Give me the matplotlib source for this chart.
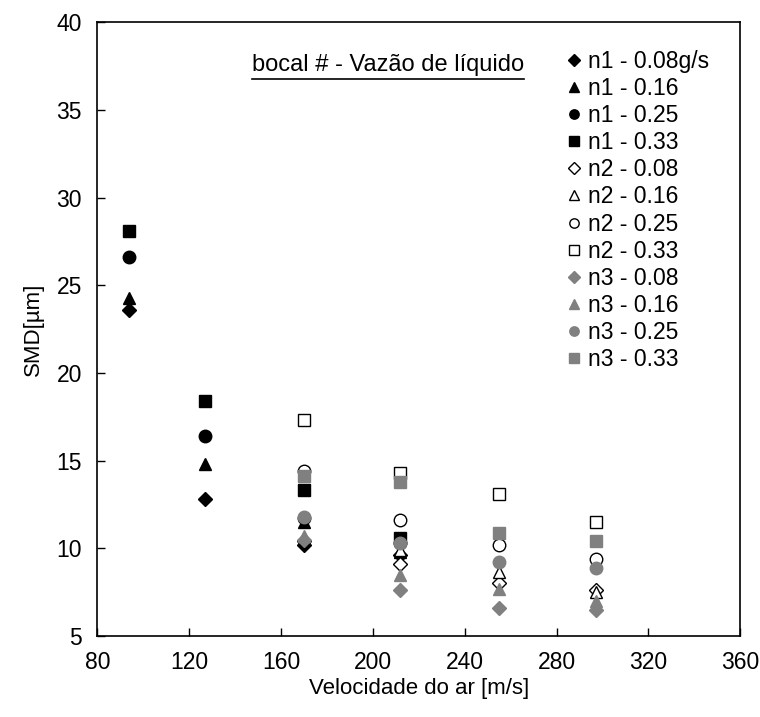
import matplotlib
matplotlib.use("Agg")
import matplotlib.pyplot as plt

plt.rcParams['font.family'] = ['Liberation Sans', 'DejaVu Sans']

# air velocity [m/s] for each nozzle
v_n1 = [94, 127, 170, 212]
v_n2 = [170, 212, 255, 297]
v_n3 = [170, 212, 255, 297]

# SMD [um] per nozzle / liquid flow rate
n1_008 = [23.6, 12.8, 10.2, 9.6]
n1_016 = [24.3, 14.8, 11.5, 9.8]
n1_025 = [26.6, 16.4, 11.7, 10.3]
n1_033 = [28.1, 18.4, 13.3, 10.6]

n2_008 = [10.4, 9.1, 8.0, 7.6]
n2_016 = [10.6, 9.9, 8.65, 7.5]
n2_025 = [14.4, 11.6, 10.2, 9.4]
n2_033 = [17.3, 14.3, 13.1, 11.5]

n3_008 = [10.5, 7.6, 6.6, 6.5]
n3_016 = [10.7, 8.5, 7.7, 7.0]
n3_025 = [11.8, 10.3, 9.2, 8.9]
n3_033 = [14.1, 13.8, 10.9, 10.4]

labels = ["n1 - 0.08g/s", "n1 - 0.16", "n1 - 0.25", "n1 - 0.33",
          "n2 - 0.08", "n2 - 0.16", "n2 - 0.25", "n2 - 0.33",
          "n3 - 0.08", "n3 - 0.16", "n3 - 0.25", "n3 - 0.33"]

series = [(v_n1, n1_008), (v_n1, n1_016), (v_n1, n1_025), (v_n1, n1_033),
          (v_n2, n2_008), (v_n2, n2_016), (v_n2, n2_025), (v_n2, n2_033),
          (v_n3, n3_008), (v_n3, n3_016), (v_n3, n3_025), (v_n3, n3_033)]

markers = ['D', '^', 'o', 's'] * 3
sizes = {'D': 7.5, '^': 9, 'o': 9, 's': 9}
faces = ['black'] * 4 + ['white'] * 4 + ['#808080'] * 4
edges = ['black'] * 4 + ['black'] * 4 + ['#808080'] * 4

fig = plt.figure(figsize=(7.6, 7.17), dpi=100)
ax = fig.add_axes([0.128, 0.113, 0.846, 0.856])

for (x, y), lab, m, fc, ec in zip(series, labels, markers, faces, edges):
    ax.plot(x, y, linestyle='none', marker=m, markersize=sizes[m],
            markerfacecolor=fc, markeredgecolor=ec, markeredgewidth=1.0,
            label=lab)

ax.set_xlim(80, 360)
ax.set_ylim(5, 40)
ax.set_xticks(range(80, 361, 40))
ax.set_yticks(range(5, 41, 5))
ax.tick_params(direction='in', labelsize=16.5, length=6, width=1, pad=11)
for s in ax.spines.values():
    s.set_linewidth(1.2)

ax.set_xlabel("Velocidade do ar [m/s]", fontsize=16, labelpad=3)
ax.set_ylabel("SMD[µm]", fontsize=16, labelpad=9)

# underlined note
note = ax.text(0.241, 0.93, "bocal # - Vazão de líquido", transform=ax.transAxes,
               fontsize=17, ha='left', va='center')
fig.canvas.draw()
bb = note.get_window_extent().transformed(ax.transAxes.inverted())
ax.plot([bb.x0, bb.x1], [bb.y0 - 0.004, bb.y0 - 0.004], transform=ax.transAxes,
        color='black', linewidth=1.2)

ax.legend(loc='upper left', bbox_to_anchor=(0.715, 0.97), frameon=False,
          fontsize=16.5, handlelength=0.7, handletextpad=0.25,
          labelspacing=0.18, borderaxespad=0, markerscale=0.75)

plt.savefig("out.png", dpi=100)
plt.close()
